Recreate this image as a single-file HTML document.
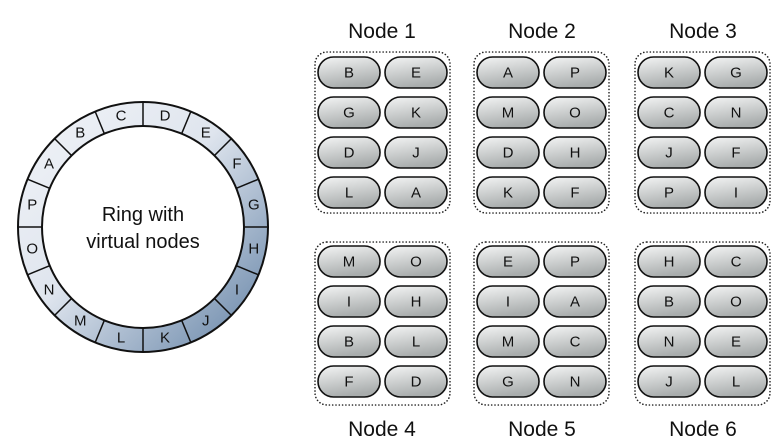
<!DOCTYPE html>
<html><head><meta charset="utf-8"><style>
html,body{margin:0;padding:0;background:#fff;}
svg{display:block;font-family:"Liberation Sans","DejaVu Sans",sans-serif;}
</style></head><body>
<svg width="778" height="439" viewBox="0 0 778 439" xmlns="http://www.w3.org/2000/svg">
<defs>
<linearGradient id="rg" x1="0" y1="0" x2="1" y2="1">
<stop offset="0" stop-color="#f2f4f8"/><stop offset="0.45" stop-color="#dfe5ee"/><stop offset="1" stop-color="#5f7fa3"/>
</linearGradient>
<linearGradient id="pg" x1="0" y1="0" x2="0.3" y2="1">
<stop offset="0" stop-color="#f4f5f5"/><stop offset="1" stop-color="#a9adad"/>
</linearGradient>
<symbol id="pill" overflow="visible"><rect x="0" y="0" width="62" height="31" rx="15.5" fill="url(#pg)" stroke="#111" stroke-width="1.6"/></symbol>
</defs>
<!-- ring -->
<path d="M143,102 A125,125 0 1 1 142.99,102 Z M143,126 A101,101 0 1 0 143.01,126 Z" fill="url(#rg)" fill-rule="evenodd"/>
<circle cx="143" cy="227" r="125" fill="none" stroke="#111" stroke-width="2"/>
<circle cx="143" cy="227" r="101" fill="#fff" stroke="#111" stroke-width="2"/>
<g stroke="#111" stroke-width="1.5">
<line x1="143" y1="126" x2="143" y2="102"/>
<line x1="181.65" y1="133.69" x2="190.84" y2="111.51"/>
<line x1="214.42" y1="155.58" x2="231.39" y2="138.61"/>
<line x1="236.31" y1="188.35" x2="258.49" y2="179.16"/>
<line x1="244" y1="227" x2="268" y2="227"/>
<line x1="236.31" y1="265.65" x2="258.49" y2="274.84"/>
<line x1="214.42" y1="298.42" x2="231.39" y2="315.39"/>
<line x1="181.65" y1="320.31" x2="190.84" y2="342.49"/>
<line x1="143" y1="328" x2="143" y2="352"/>
<line x1="104.35" y1="320.31" x2="95.16" y2="342.49"/>
<line x1="71.58" y1="298.42" x2="54.61" y2="315.39"/>
<line x1="49.69" y1="265.65" x2="27.51" y2="274.84"/>
<line x1="42" y1="227" x2="18" y2="227"/>
<line x1="49.69" y1="188.35" x2="27.51" y2="179.16"/>
<line x1="71.58" y1="155.58" x2="54.61" y2="138.61"/>
<line x1="104.35" y1="133.69" x2="95.16" y2="111.51"/>
</g>
<g font-size="15" fill="#111" text-anchor="middle" dominant-baseline="central">
<text x="165" y="116">D</text><text x="205.8" y="133">E</text><text x="237" y="164.2">F</text><text x="253.8" y="205">G</text>
<text x="253.8" y="249">H</text><text x="237" y="289.8">I</text><text x="205.8" y="321">J</text><text x="165" y="337.8">K</text>
<text x="121" y="337.8">L</text><text x="80.2" y="321">M</text><text x="49" y="289.8">N</text><text x="32.2" y="249">O</text>
<text x="32.2" y="205">P</text><text x="49" y="164.2">A</text><text x="80.2" y="133">B</text><text x="121" y="116">C</text>
</g>
<g font-size="20" fill="#111" text-anchor="middle">
<text x="143" y="221">Ring with</text><text x="143" y="248">virtual nodes</text>
</g>
<!-- node boxes -->
<g fill="none" stroke="#222" stroke-width="1.6" stroke-dasharray="0.1 3.2" stroke-linecap="round">
<rect x="315" y="52" width="135" height="161" rx="12"/>
<rect x="474" y="52" width="135" height="161" rx="12"/>
<rect x="635" y="52" width="135" height="161" rx="12"/>
<rect x="315" y="242" width="135" height="163" rx="12"/>
<rect x="474" y="242" width="135" height="163" rx="12"/>
<rect x="635" y="242" width="135" height="163" rx="12"/>
</g>
<g font-size="21" fill="#111" text-anchor="middle">
<text x="382" y="38">Node 1</text><text x="542" y="38">Node 2</text><text x="703" y="38">Node 3</text>
<text x="382" y="436">Node 4</text><text x="542" y="436">Node 5</text><text x="703" y="436">Node 6</text>
</g>
<g id="pills">
<use href="#pill" x="318" y="57"/><use href="#pill" x="385" y="57"/>
<use href="#pill" x="318" y="97"/><use href="#pill" x="385" y="97"/>
<use href="#pill" x="318" y="137"/><use href="#pill" x="385" y="137"/>
<use href="#pill" x="318" y="177"/><use href="#pill" x="385" y="177"/>
<use href="#pill" x="477" y="57"/><use href="#pill" x="544" y="57"/>
<use href="#pill" x="477" y="97"/><use href="#pill" x="544" y="97"/>
<use href="#pill" x="477" y="137"/><use href="#pill" x="544" y="137"/>
<use href="#pill" x="477" y="177"/><use href="#pill" x="544" y="177"/>
<use href="#pill" x="638" y="57"/><use href="#pill" x="705" y="57"/>
<use href="#pill" x="638" y="97"/><use href="#pill" x="705" y="97"/>
<use href="#pill" x="638" y="137"/><use href="#pill" x="705" y="137"/>
<use href="#pill" x="638" y="177"/><use href="#pill" x="705" y="177"/>
<use href="#pill" x="318" y="246"/><use href="#pill" x="385" y="246"/>
<use href="#pill" x="318" y="286"/><use href="#pill" x="385" y="286"/>
<use href="#pill" x="318" y="326"/><use href="#pill" x="385" y="326"/>
<use href="#pill" x="318" y="366"/><use href="#pill" x="385" y="366"/>
<use href="#pill" x="477" y="246"/><use href="#pill" x="544" y="246"/>
<use href="#pill" x="477" y="286"/><use href="#pill" x="544" y="286"/>
<use href="#pill" x="477" y="326"/><use href="#pill" x="544" y="326"/>
<use href="#pill" x="477" y="366"/><use href="#pill" x="544" y="366"/>
<use href="#pill" x="638" y="246"/><use href="#pill" x="705" y="246"/>
<use href="#pill" x="638" y="286"/><use href="#pill" x="705" y="286"/>
<use href="#pill" x="638" y="326"/><use href="#pill" x="705" y="326"/>
<use href="#pill" x="638" y="366"/><use href="#pill" x="705" y="366"/>
</g>
<g font-size="15" fill="#111" text-anchor="middle" dominant-baseline="central">
<text x="349" y="73">B</text><text x="416" y="73">E</text>
<text x="349" y="113">G</text><text x="416" y="113">K</text>
<text x="349" y="153">D</text><text x="416" y="153">J</text>
<text x="349" y="193">L</text><text x="416" y="193">A</text>
<text x="508" y="73">A</text><text x="575" y="73">P</text>
<text x="508" y="113">M</text><text x="575" y="113">O</text>
<text x="508" y="153">D</text><text x="575" y="153">H</text>
<text x="508" y="193">K</text><text x="575" y="193">F</text>
<text x="669" y="73">K</text><text x="736" y="73">G</text>
<text x="669" y="113">C</text><text x="736" y="113">N</text>
<text x="669" y="153">J</text><text x="736" y="153">F</text>
<text x="669" y="193">P</text><text x="736" y="193">I</text>
<text x="349" y="262">M</text><text x="416" y="262">O</text>
<text x="349" y="302">I</text><text x="416" y="302">H</text>
<text x="349" y="342">B</text><text x="416" y="342">L</text>
<text x="349" y="382">F</text><text x="416" y="382">D</text>
<text x="508" y="262">E</text><text x="575" y="262">P</text>
<text x="508" y="302">I</text><text x="575" y="302">A</text>
<text x="508" y="342">M</text><text x="575" y="342">C</text>
<text x="508" y="382">G</text><text x="575" y="382">N</text>
<text x="669" y="262">H</text><text x="736" y="262">C</text>
<text x="669" y="302">B</text><text x="736" y="302">O</text>
<text x="669" y="342">N</text><text x="736" y="342">E</text>
<text x="669" y="382">J</text><text x="736" y="382">L</text>
</g>
</svg>
</body></html>
